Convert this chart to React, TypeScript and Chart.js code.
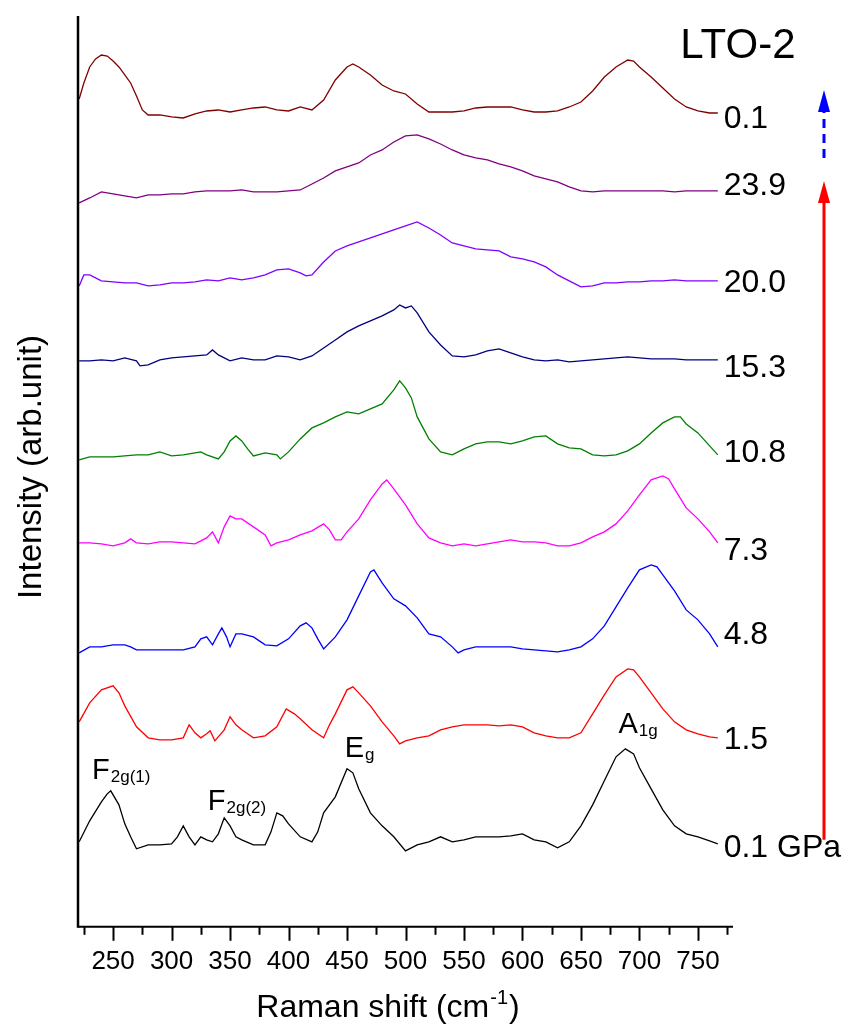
import React, { useEffect, useRef } from "react";
import { Chart, registerables } from "chart.js";

Chart.register(...registerables);

const FONT = '"Liberation Sans", Arial, Helvetica, sans-serif';

// Pressure labels (bottom to top) and colours
const pressures = ["0.1 GPa", "1.5", "4.8", "7.3", "10.8", "15.3", "20.0", "23.9", "0.1"];
const colors = ["#000000", "#ff0000", "#0000ff", "#ff00ff", "#008000", "#000080", "#8000ff", "#800080", "#800000"];
// Intensity (arb.) at which each pressure label sits
const labelLevels = [70, 178, 283, 367, 465, 550, 635, 732, 799];

const xTicks = [250, 300, 350, 400, 450, 500, 550, 600, 650, 700, 750];
const xMinorTicks = [225, 275, 325, 375, 425, 475, 525, 575, 625, 675, 725, 775];

// 0.1 GPa
const shift0 = [221,230,240,245,248,255,260,265,270,280,290,300,305,310,315,320,325,330,335,340,345,350,355,360,370,380,385,390,395,400,410,420,425,430,440,450,455,460,470,480,490,500,510,520,530,540,550,560,570,580,590,600,610,620,630,640,650,660,670,680,688,695,700,710,720,730,740,750,760,767];
const int0 = [85,106,125,133,136,122,103,90,78,82,82,83,90,101,90,82,90,87,85,93,109,101,90,87,82,82,95,114,111,103,90,85,95,114,130,158,154,138,114,101,90,76,82,85,90,85,87,90,90,90,91,93,87,85,79,85,101,122,146,170,178,173,159,138,117,101,93,90,86,83];
// 1.5 GPa
const shift1 = [221,230,240,250,255,260,270,280,290,300,310,315,320,325,330,333,337,345,350,355,360,370,380,390,398,405,410,420,430,435,440,450,455,460,470,480,490,495,500,510,520,530,540,550,560,570,580,590,600,610,620,630,640,650,660,670,680,690,695,700,710,720,730,740,750,760,767];
const int1 = [205,224,237,241,234,221,200,189,187,187,189,202,194,189,193,196,186,197,210,202,197,189,191,200,218,213,208,197,189,202,213,237,240,234,221,205,191,183,186,189,191,197,200,202,202,202,201,202,200,194,191,189,189,194,213,232,250,258,257,250,234,218,205,197,193,190,189];
// 4.8 GPa
const shift2 = [221,230,240,250,260,265,270,280,290,300,310,320,325,330,335,340,343,347,350,355,360,370,380,390,400,410,415,420,425,430,440,450,460,470,473,480,490,500,510,520,530,540,545,550,560,570,580,590,600,610,620,630,640,650,660,670,680,690,700,710,715,720,730,740,750,760,767];
const int2 = [274,280,280,282,282,280,277,277,277,277,277,280,288,290,282,293,299,290,280,293,293,290,282,281,288,301,304,299,288,278,290,307,331,355,357,344,328,321,309,293,290,280,274,277,280,280,280,280,278,277,276,275,277,280,288,301,320,339,357,362,360,352,336,317,307,293,280];
// 7.3 GPa
const shift3 = [221,230,240,250,260,265,270,280,290,300,310,320,330,335,340,345,350,355,360,370,380,385,390,400,410,420,430,435,440,445,450,460,470,480,484,490,500,510,520,530,540,550,560,570,580,590,600,610,620,630,640,650,660,670,680,690,700,710,720,725,730,740,750,760,767];
const int3 = [384,384,383,381,384,388,384,383,385,385,384,383,389,395,384,400,411,408,408,400,392,381,384,387,392,396,403,397,387,387,395,408,427,443,447,438,422,403,389,384,381,383,381,383,385,387,385,385,384,381,381,384,390,395,403,416,432,447,451,448,438,419,408,395,384];
// 10.8 GPa
const shift4 = [221,230,240,250,260,270,280,290,300,310,320,325,330,340,345,350,355,360,365,370,380,390,393,400,410,420,430,440,450,460,470,480,490,495,500,505,510,520,530,540,550,560,570,580,590,600,610,620,630,640,650,660,670,680,690,700,710,720,730,735,740,750,760,767];
const int4 = [467,470,470,470,471,472,472,475,471,472,474,475,472,468,475,486,491,486,478,471,474,472,468,475,488,499,504,510,515,513,518,523,537,546,539,529,510,488,475,472,478,483,485,485,483,486,490,491,483,479,478,472,471,472,476,483,494,504,510,510,503,494,481,472];
// 15.3 GPa
const shift5 = [221,230,240,250,260,270,273,280,290,300,310,320,330,335,340,350,360,370,380,390,400,410,420,430,440,450,460,470,480,490,495,500,505,510,520,530,540,550,560,570,580,590,600,610,620,630,640,650,660,670,680,690,700,710,720,730,740,750,767];
const int5 = [566,566,567,566,569,566,561,562,567,569,570,571,572,577,572,566,569,567,567,571,570,567,571,579,587,595,601,606,611,617,622,619,621,614,595,582,571,570,572,576,578,574,570,567,566,567,565,566,567,568,569,570,569,568,568,568,567,567,567];
// 20.0 GPa
const shift6 = [221,225,230,240,250,260,270,280,290,300,310,320,330,340,350,360,370,380,390,400,410,415,420,430,440,450,460,470,480,490,500,510,520,530,540,550,560,570,580,590,600,610,620,630,640,650,660,670,680,690,700,710,720,730,740,750,767];
const int6 = [641,652,652,646,645,644,644,641,642,644,644,645,647,646,649,647,649,652,657,658,654,651,652,665,676,681,685,689,693,697,701,705,699,692,684,681,678,677,676,670,668,665,660,652,646,640,641,644,644,645,645,646,646,647,646,646,646];
// 23.9 GPa
const shift7 = [221,230,240,250,260,270,280,290,300,310,320,330,340,350,360,370,380,390,400,410,420,430,440,450,460,470,480,490,500,510,520,530,540,550,560,570,580,590,600,610,620,630,640,650,660,670,680,690,700,710,720,730,740,750,767];
const int7 = [724,729,735,733,731,729,732,732,733,733,735,736,736,736,737,735,735,735,736,737,743,749,756,760,764,772,777,785,791,792,788,783,777,772,769,767,763,760,756,751,748,745,740,736,735,736,736,736,736,736,736,735,736,736,736];
// 0.1 GPa (released)
const shift8 = [221,225,230,235,240,245,250,255,260,265,270,275,280,290,300,310,320,330,340,350,360,370,380,390,400,410,420,430,440,450,455,460,470,480,490,500,510,520,530,540,550,560,570,580,590,600,610,620,630,640,650,660,670,680,690,695,700,710,720,730,740,750,760,767];
const int8 = [828,844,860,868,872,871,866,860,852,844,831,817,812,812,810,809,813,816,817,815,817,819,820,817,816,820,817,827,847,860,863,860,852,842,836,833,823,815,815,815,816,819,820,820,820,817,815,815,816,820,825,836,850,860,867,866,860,850,839,828,820,816,814,814];

const shifts = [shift0, shift1, shift2, shift3, shift4, shift5, shift6, shift7, shift8];
const intensities = [int0, int1, int2, int3, int4, int5, int6, int7, int8];

// Peak annotations: [main, sub, shift, intensity]
const peakLabels: [string, string, number, number][] = [
  ["F", "2g(1)", 232, 148],
  ["F", "2g(2)", 331, 117],
  ["E", "g", 448, 170],
  ["A", "1g", 682, 194],
];

const X_MIN = 220;
const X_MAX = 780;
const Y_MIN = 0;
const Y_MAX = 911;

function drawSub(ctx: CanvasRenderingContext2D, x: number, y: number, main: string, sub: string, mainSize: number, subSize: number, subDy: number) {
  ctx.font = `${mainSize}px ${FONT}`;
  ctx.fillText(main, x, y);
  const w = ctx.measureText(main).width;
  ctx.font = `${subSize}px ${FONT}`;
  ctx.fillText(sub, x + w + 1, y + subDy);
}

const overlay = {
  id: "overlay",
  afterDraw(chart: any) {
    const ctx: CanvasRenderingContext2D = chart.ctx;
    const a = chart.chartArea;
    const xs = chart.scales.x;
    const ys = chart.scales.y;
    ctx.save();
    ctx.strokeStyle = "#000";
    ctx.fillStyle = "#000";
    // axes
    ctx.lineWidth = 2.5;
    ctx.beginPath();
    ctx.moveTo(a.left, a.top);
    ctx.lineTo(a.left, a.bottom + 1);
    ctx.stroke();
    ctx.lineWidth = 2;
    ctx.beginPath();
    ctx.moveTo(a.left, a.bottom);
    ctx.lineTo(a.right, a.bottom);
    ctx.stroke();
    // ticks
    for (const v of xTicks) {
      const px = Math.round(xs.getPixelForValue(v)) + 0.5;
      ctx.beginPath();
      ctx.moveTo(px, a.bottom);
      ctx.lineTo(px, a.bottom + 14);
      ctx.stroke();
    }
    for (const v of xMinorTicks) {
      const px = Math.round(xs.getPixelForValue(v)) + 0.5;
      ctx.beginPath();
      ctx.moveTo(px, a.bottom);
      ctx.lineTo(px, a.bottom + 8);
      ctx.stroke();
    }
    // axis titles
    ctx.textBaseline = "alphabetic";
    ctx.textAlign = "left";
    const tSize = 32;
    const supSize = 20;
    ctx.font = `${tSize}px ${FONT}`;
    const p1 = "Raman shift (cm";
    const p3 = ")";
    const w1 = ctx.measureText(p1).width;
    const w3 = ctx.measureText(p3).width;
    ctx.font = `${supSize}px ${FONT}`;
    const w2 = ctx.measureText("-1").width;
    const total = w1 + w2 + w3 + 2;
    let tx = 388 - total / 2;
    const ty = 1017;
    ctx.font = `${tSize}px ${FONT}`;
    ctx.fillText(p1, tx, ty);
    ctx.font = `${supSize}px ${FONT}`;
    ctx.fillText("-1", tx + w1 + 1, ty - 13);
    ctx.font = `${tSize}px ${FONT}`;
    ctx.fillText(p3, tx + w1 + w2 + 2, ty);

    ctx.save();
    ctx.translate(41, 467);
    ctx.rotate(-Math.PI / 2);
    ctx.textAlign = "center";
    ctx.font = `33px ${FONT}`;
    ctx.fillText("Intensity (arb.unit)", 0, 0);
    ctx.restore();

    // pressure labels
    ctx.textAlign = "left";
    ctx.font = `32px ${FONT}`;
    pressures.forEach((p, i) => {
      ctx.fillText(p, xs.getPixelForValue(772), ys.getPixelForValue(labelLevels[i]));
    });

    // sample name
    ctx.font = `42px ${FONT}`;
    ctx.fillText("LTO-2", xs.getPixelForValue(735), ys.getPixelForValue(869));

    // peak labels
    for (const [m, s, xv, yv] of peakLabels) {
      drawSub(ctx, xs.getPixelForValue(xv), ys.getPixelForValue(yv), m, s, 29, 17, 3);
    }

    // arrows
    const ax = 824;
    ctx.strokeStyle = "#ff0000";
    ctx.fillStyle = "#ff0000";
    ctx.lineWidth = 3;
    ctx.beginPath();
    ctx.moveTo(ax, ys.getPixelForValue(87));
    ctx.lineTo(ax, ys.getPixelForValue(725));
    ctx.stroke();
    const rt = ys.getPixelForValue(746);
    ctx.beginPath();
    ctx.moveTo(ax, rt);
    ctx.lineTo(ax - 6, rt + 22);
    ctx.lineTo(ax + 6, rt + 22);
    ctx.closePath();
    ctx.fill();

    ctx.strokeStyle = "#0000ff";
    ctx.fillStyle = "#0000ff";
    ctx.setLineDash([9, 6]);
    ctx.beginPath();
    ctx.moveTo(ax, ys.getPixelForValue(769));
    ctx.lineTo(ax, ys.getPixelForValue(815));
    ctx.stroke();
    ctx.setLineDash([]);
    const bt = ys.getPixelForValue(837);
    ctx.beginPath();
    ctx.moveTo(ax, bt);
    ctx.lineTo(ax - 6, bt + 22);
    ctx.lineTo(ax + 6, bt + 22);
    ctx.closePath();
    ctx.fill();

    ctx.restore();
  },
};

export default function App() {
  const ref = useRef<HTMLCanvasElement | null>(null);
  useEffect(() => {
    if (!ref.current) return;
    const datasets = shifts.map((sx, i) => ({
      label: pressures[i],
      data: sx.map((x, j) => ({ x, y: intensities[i][j] })),
      borderColor: colors[i],
      backgroundColor: colors[i],
      borderWidth: 1.3,
      pointRadius: 0,
      fill: false,
      tension: 0,
    }));
    const chart = new Chart(ref.current, {
      type: "line",
      data: { datasets },
      options: {
        animation: false,
        responsive: false,
        devicePixelRatio: 1,
        layout: { padding: { left: 78, right: 120, top: 16, bottom: 38 } },
        plugins: { legend: { display: false }, tooltip: { enabled: false } },
        scales: {
          x: {
            type: "linear",
            min: X_MIN,
            max: X_MAX,
            afterBuildTicks: (scale: any) => {
              scale.ticks = xTicks.map((v) => ({ value: v }));
            },
            grid: { display: false, drawTicks: false },
            border: { display: false },
            ticks: {
              color: "#000",
              font: { family: FONT, size: 26 },
              padding: 19,
              maxRotation: 0,
              autoSkip: false,
            },
          },
          y: {
            type: "linear",
            display: false,
            min: Y_MIN,
            max: Y_MAX,
          },
        },
      },
      plugins: [overlay],
    });
    return () => chart.destroy();
  }, []);
  return (
    <div style={{ position: "absolute", left: 0, top: 0, width: 853, height: 1034, background: "#fff" }}>
      <canvas ref={ref} width={853} height={1034} style={{ width: 853, height: 1034 }} />
    </div>
  );
}
